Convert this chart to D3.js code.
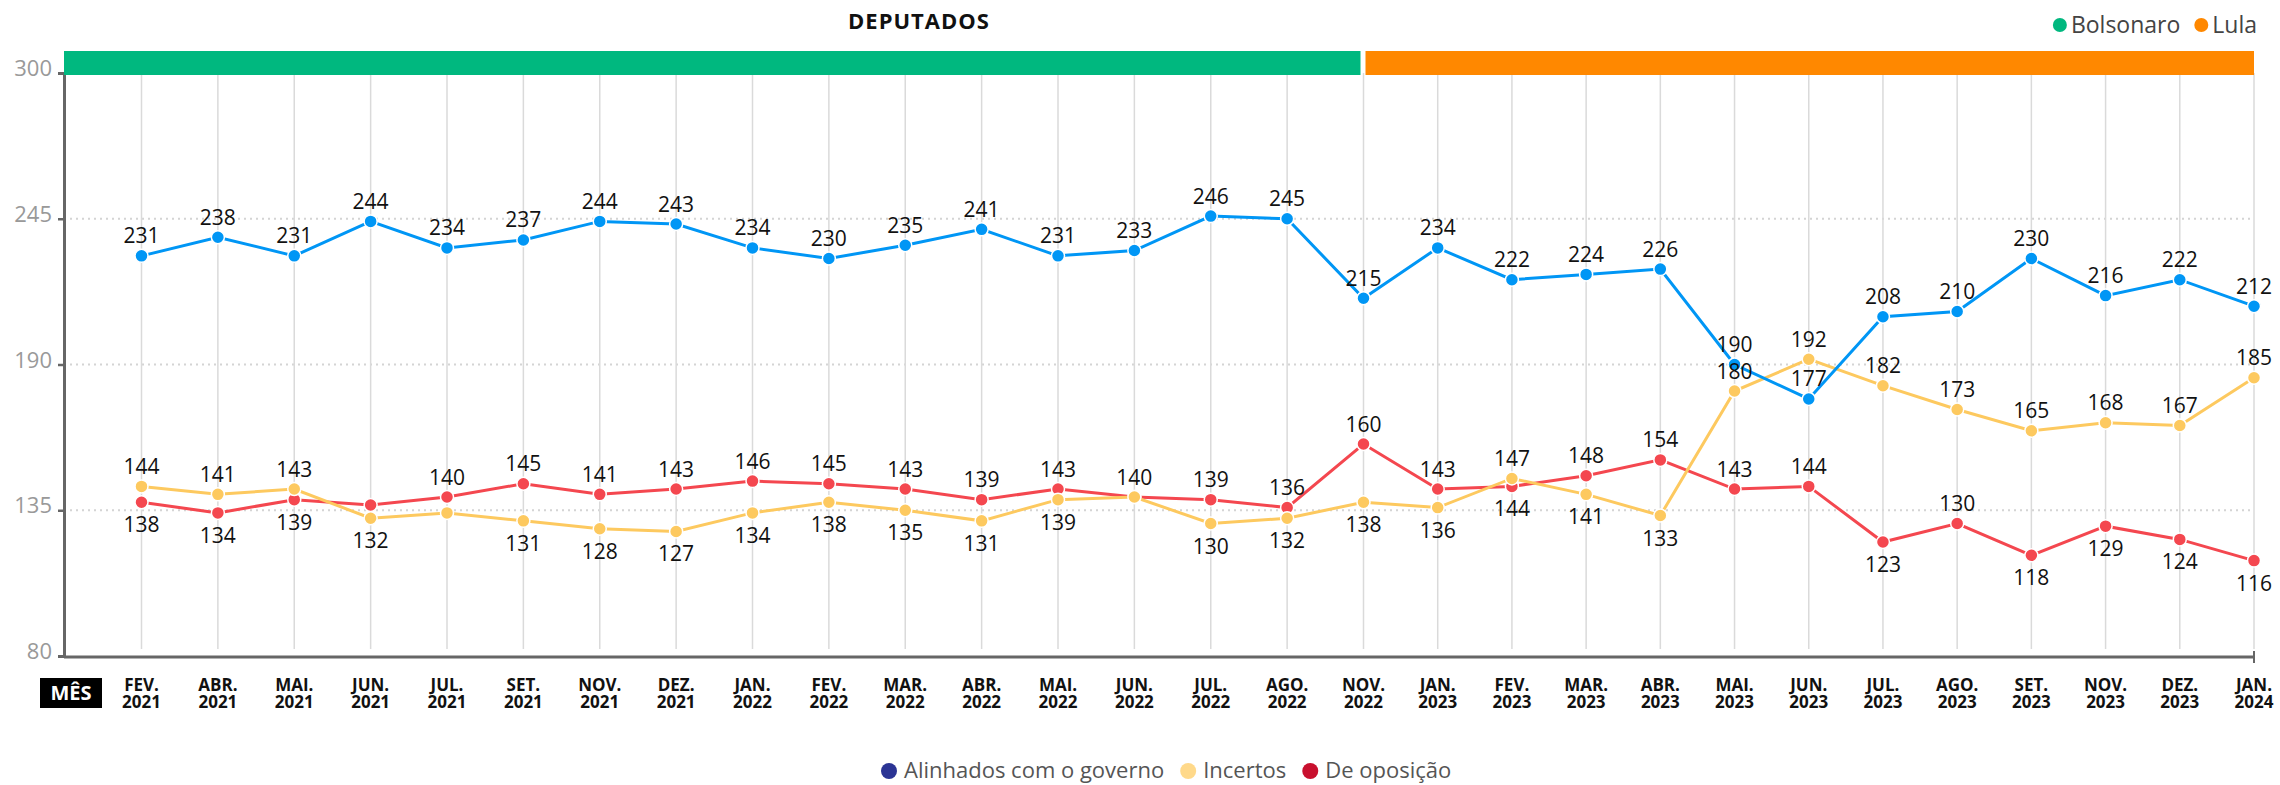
<!DOCTYPE html>
<html>
<head>
<meta charset="utf-8">
<script src="https://cdn.jsdelivr.net/npm/d3@7"></script>
<style>
  body { margin: 0; background: #fff; }
  text { font-family: "Open Sans", "Noto Sans", sans-serif; }
</style>
</head>
<body>
<div id="chart"></div>
<script>
// Months on the x axis
const months = ["FEV. 2021", "ABR. 2021", "MAI. 2021", "JUN. 2021", "JUL. 2021", "SET. 2021", "NOV. 2021", "DEZ. 2021",
  "JAN. 2022", "FEV. 2022", "MAR. 2022", "ABR. 2022", "MAI. 2022", "JUN. 2022", "JUL. 2022", "AGO. 2022", "NOV. 2022",
  "JAN. 2023", "FEV. 2023", "MAR. 2023", "ABR. 2023", "MAI. 2023", "JUN. 2023", "JUL. 2023", "AGO. 2023", "SET. 2023",
  "NOV. 2023", "DEZ. 2023", "JAN. 2024"];

// Series values
const alinhados = [231, 238, 231, 244, 234, 237, 244, 243, 234, 230, 235, 241, 231, 233, 246, 245, 215,
  234, 222, 224, 226, 190, 177, 208, 210, 230, 216, 222, 212];
const incertos = [144, 141, 143, 132, 134, 131, 128, 127, 134, 138, 135, 131, 139, 140, 130, 132, 138,
  136, 147, 141, 133, 180, 192, 182, 173, 165, 168, 167, 185];
const oposicao = [138, 134, 139, 137, 140, 145, 141, 143, 146, 145, 143, 139, 143, 140, 139, 136, 160,
  143, 144, 148, 154, 143, 144, 123, 130, 118, 129, 124, 116];

// Where each value label sits: a = above, b = below, - = no label
const alinhadosLabels = "aaaaaaaaaaaaaaaaaaaaaaaaaaaaa";
const incertosLabels  = "aaab-bbbbbbbb-bbbbabbaaaaaaaa";
const oposicaoLabels  = "bbb-aaaaaaaaaaaaaabaaaababbbb";

// Y ticks
const yTicks = [80, 135, 190, 245, 300];

// Government periods (index of first and last month)
const periods = [
  { name: "Bolsonaro", from: 0, to: 16, color: "#00b87f" },
  { name: "Lula", from: 16, to: 28, color: "#ff8800" }
];

const W = 2280, H = 785;
const margin = { top: 73, right: 26, bottom: 129, left: 64 };

const svg = d3.select("#chart").append("svg")
  .attr("width", W)
  .attr("height", H);

// Scales
let x = d3.scaleLinear()
  .domain([0, 16, 28])
  .range([141.5, 1363.5, W - margin.right]);

let y = d3.scaleLinear()
  .domain([80, 300])
  .range([H - margin.bottom, margin.top]);

// Horizontal dotted gridlines
svg.append("g")
  .selectAll("line")
  .data(yTicks.filter(d => d > 80 && d < 300))
  .enter().append("line")
  .attr("x1", margin.left)
  .attr("x2", x(28))
  .attr("y1", d => y(d))
  .attr("y2", d => y(d))
  .attr("stroke", "#d4d4d4")
  .attr("stroke-width", 2)
  .attr("stroke-dasharray", "2,4");

// Vertical gridlines
svg.append("g")
  .selectAll("line")
  .data(d3.range(months.length))
  .enter().append("line")
  .attr("x1", d => x(d))
  .attr("x2", d => x(d))
  .attr("y1", y(300))
  .attr("y2", y(80) - 7)
  .attr("stroke", "#dadada")
  .attr("stroke-width", 1.5);

// Y axis
let yAxis = svg.append("g")
  .attr("transform", `translate(${margin.left},0)`)
  .call(d3.axisLeft(y).tickValues(yTicks).tickSize(6).tickPadding(6));
yAxis.select(".domain").attr("stroke", "#666").attr("stroke-width", 3);
yAxis.selectAll(".tick line").attr("stroke", "#666").attr("stroke-width", 2.5);
yAxis.selectAll(".tick text")
  .attr("fill", "#999")
  .attr("dy", "0.12em")
  .style("font-size", "22px")
  .style("font-family", "'Open Sans', sans-serif");

// X axis baseline
svg.append("line")
  .attr("x1", margin.left)
  .attr("x2", x(28))
  .attr("y1", y(80) + 1)
  .attr("y2", y(80) + 1)
  .attr("stroke", "#666")
  .attr("stroke-width", 3);
svg.append("line")
  .attr("x1", x(28))
  .attr("x2", x(28))
  .attr("y1", y(80) - 5)
  .attr("y2", y(80) + 7)
  .attr("stroke", "#666")
  .attr("stroke-width", 2);

// X labels, two lines (month on top, year below)
let xLabels = svg.append("g")
  .selectAll("g")
  .data(months)
  .enter().append("g")
  .attr("transform", (d, i) => `translate(${x(i)},${y(80)})`);
xLabels.append("text")
  .attr("y", 35)
  .attr("text-anchor", "middle")
  .style("font-size", "17px")
  .style("font-weight", "700")
  .attr("fill", "#111")
  .text(d => d.split(" ")[0]);
xLabels.append("text")
  .attr("y", 52)
  .attr("text-anchor", "middle")
  .style("font-size", "17px")
  .style("font-weight", "700")
  .attr("fill", "#111")
  .text(d => d.split(" ")[1]);

// "MÊS" box
svg.append("rect")
  .attr("x", 40)
  .attr("y", y(80) + 22)
  .attr("width", 62)
  .attr("height", 30)
  .attr("fill", "#000");
svg.append("text")
  .attr("x", 71)
  .attr("y", y(80) + 44)
  .attr("text-anchor", "middle")
  .attr("fill", "#fff")
  .style("font-size", "20px")
  .style("font-weight", "700")
  .text("MÊS");

// Government bars
svg.append("g")
  .selectAll("rect")
  .data(periods)
  .enter().append("rect")
  .attr("x", (d, i) => i === 0 ? margin.left : x(d.from) + 2)
  .attr("width", (d, i) => i === 0 ? x(d.to) - 3 - margin.left : x(d.to) - x(d.from) - 2)
  .attr("y", 51)
  .attr("height", 24)
  .attr("fill", d => d.color);

// Title
svg.append("text")
  .attr("x", 919)
  .attr("y", 29)
  .attr("text-anchor", "middle")
  .style("font-size", "22px")
  .style("font-weight", "700")
  .style("letter-spacing", "1px")
  .attr("fill", "#111")
  .text("DEPUTADOS");

// Lines, dots and labels
let series = [
  { name: "De oposição", values: oposicao, labels: oposicaoLabels, color: "#f4474f" },
  { name: "Incertos", values: incertos, labels: incertosLabels, color: "#fdc95f" },
  { name: "Alinhados com o governo", values: alinhados, labels: alinhadosLabels, color: "#0096f5" }
];

let line = d3.line()
  .x((d, i) => x(i))
  .y(d => y(d));

series.forEach(s => {
  let g = svg.append("g");
  g.append("path")
    .datum(s.values)
    .attr("d", line)
    .attr("fill", "none")
    .attr("stroke", s.color)
    .attr("stroke-width", 3);
  g.selectAll("circle")
    .data(s.values)
    .enter().append("circle")
    .attr("cx", (d, i) => x(i))
    .attr("cy", d => y(d))
    .attr("r", 6.5)
    .attr("fill", s.color)
    .attr("stroke", "#fff")
    .attr("stroke-width", 1.5);
});

// Value labels, drawn last so they sit over the lines
series.forEach(s => {
  let points = s.values
    .map((v, i) => ({ v: v, i: i, side: s.labels[i] }))
    .filter(p => p.side !== "-");
  svg.append("g")
    .selectAll("text")
    .data(points)
    .enter().append("text")
    .attr("x", p => x(p.i))
    .attr("y", p => p.side === "a" ? y(p.v) - 12.5 : y(p.v) + 30)
    .attr("text-anchor", "middle")
    .style("font-size", "21px")
    .attr("fill", "#111")
    .text(p => p.v);
});

// Top legend
let topLegend = svg.append("g");
let tx = 2257;
periods.slice().reverse().forEach(p => {
  let t = topLegend.append("text")
    .attr("y", 33)
    .attr("text-anchor", "end")
    .attr("x", tx)
    .attr("fill", "#444")
    .style("font-size", "23px")
    .text(p.name);
  let w = t.node().getComputedTextLength();
  topLegend.append("circle")
    .attr("cx", tx - w - 11)
    .attr("cy", 25)
    .attr("r", 7)
    .attr("fill", p.color);
  tx = tx - w - 32;
});

// Bottom legend
let legendItems = [
  { name: "Alinhados com o governo", color: "#2b3494" },
  { name: "Incertos", color: "#ffd98a" },
  { name: "De oposição", color: "#c8102e" }
];
let bottomLegend = svg.append("g");
let bx = 889;
legendItems.forEach(item => {
  bottomLegend.append("circle")
    .attr("cx", bx)
    .attr("cy", 771)
    .attr("r", 8)
    .attr("fill", item.color);
  let t = bottomLegend.append("text")
    .attr("x", bx + 15)
    .attr("y", 778)
    .attr("fill", "#555")
    .style("font-size", "22px")
    .text(item.name);
  bx = bx + 15 + t.node().getComputedTextLength() + 24;
});
</script>
</body>
</html>
